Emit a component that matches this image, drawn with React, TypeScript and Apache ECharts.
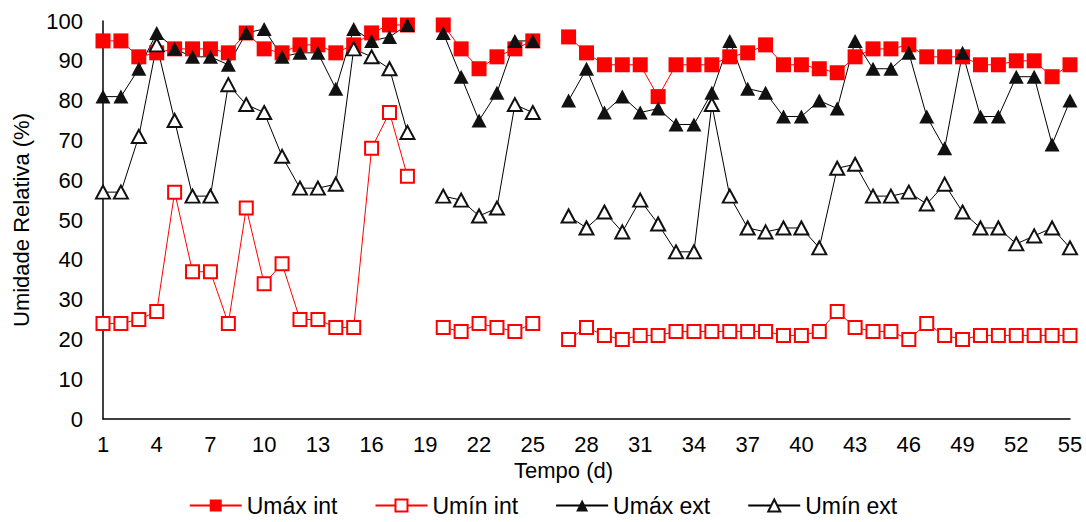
import React, { useEffect, useRef } from "react";
import * as echarts from "echarts";

const days = [
  "1","2","3","4","5","6","7","8","9","10","11","12","13","14","15","16","17","18","19","20",
  "21","22","23","24","25","26","27","28","29","30","31","32","33","34","35","36","37","38","39","40",
  "41","42","43","44","45","46","47","48","49","50","51","52","53","54","55",
];

const umaxInt = [
  95, 95, 91, 92, 93, 93, 93, 92, 97, 93, 92, 94, 94, 92, 94, 97, 99, 99, null, 99,
  93, 88, 91, 93, 95, null, 96, 92, 89, 89, 89, 81, 89, 89, 89, 91, 92, 94, 89, 89,
  88, 87, 91, 93, 93, 94, 91, 91, 91, 89, 89, 90, 90, 86, 89,
];

const uminInt = [
  24, 24, 25, 27, 57, 37, 37, 24, 53, 34, 39, 25, 25, 23, 23, 68, 77, 61, null, 23,
  22, 24, 23, 22, 24, null, 20, 23, 21, 20, 21, 21, 22, 22, 22, 22, 22, 22, 21, 21,
  22, 27, 23, 22, 22, 20, 24, 21, 20, 21, 21, 21, 21, 21, 21,
];

const umaxExt = [
  81, 81, 88, 97, 93, 91, 91, 89, 97, 98, 91, 92, 92, 83, 98, 95, 96, 99, null, 97,
  86, 75, 82, 95, 95, null, 80, 88, 77, 81, 77, 78, 74, 74, 82, 95, 83, 82, 76, 76,
  80, 78, 95, 88, 88, 92, 76, 68, 92, 76, 76, 86, 86, 69, 80,
];

const uminExt = [
  57, 57, 71, 94, 75, 56, 56, 84, 79, 77, 66, 58, 58, 59, 93, 91, 88, 72, null, 56,
  55, 51, 53, 79, 77, null, 51, 48, 52, 47, 55, 49, 42, 42, 79, 56, 48, 47, 48, 48,
  43, 63, 64, 56, 56, 57, 54, 59, 52, 48, 48, 44, 46, 48, 43,
];

const seriesNames = ["Umáx int", "Umín int", "Umáx ext", "Umín ext"];

const FONT = "Liberation Sans, Arial, sans-serif";

export default function App() {
  const ref = useRef<HTMLDivElement>(null);

  useEffect(() => {
    if (!ref.current) return;
    const chart = echarts.init(ref.current, undefined, { renderer: "svg" });
    const red = "#ff0000";
    const black = "#000000";
    chart.setOption({
      animation: false,
      backgroundColor: "#ffffff",
      textStyle: { fontFamily: FONT, color: "#000" },
      grid: { left: 103, right: 16, top: 21, bottom: 103, containLabel: false },
      legend: {
        data: seriesNames,
        bottom: 0,
        left: "center",
        itemWidth: 52,
        itemHeight: 15,
        itemGap: 37,
        textStyle: { fontFamily: FONT, fontSize: 23, color: "#000" },
      },
      xAxis: {
        type: "category",
        data: days,
        boundaryGap: false,
        name: "Tempo (d)",
        nameLocation: "middle",
        nameGap: 40,
        nameTextStyle: { fontFamily: FONT, fontSize: 22, color: "#000", padding: [0, 46, 0, 0] },
        axisLine: { lineStyle: { color: "#000", width: 1.5 } },
        axisTick: { show: false },
        axisLabel: { interval: 2, margin: 14, fontFamily: FONT, fontSize: 22, color: "#000" },
        splitLine: { show: false },
      },
      yAxis: {
        type: "value",
        min: 0,
        max: 100,
        interval: 10,
        name: "Umidade Relativa (%)",
        nameLocation: "middle",
        nameGap: 71,
        nameRotate: 90,
        nameTextStyle: { fontFamily: FONT, fontSize: 22, color: "#000" },
        axisLine: { show: true, lineStyle: { color: "#000", width: 1.5 } },
        axisTick: { show: false },
        axisLabel: { margin: 20, fontFamily: FONT, fontSize: 22, color: "#000" },
        splitLine: { show: false },
      },
      series: [
        {
          name: seriesNames[0],
          type: "line",
          data: umaxInt,
          connectNulls: false,
          showAllSymbol: true,
          symbol: "rect",
          symbolSize: 15,
          lineStyle: { color: red, width: 1 },
          itemStyle: { color: red, borderWidth: 0 },
        },
        {
          name: seriesNames[1],
          type: "line",
          data: uminInt,
          connectNulls: false,
          showAllSymbol: true,
          symbol: "rect",
          symbolSize: 13,
          lineStyle: { color: red, width: 1 },
          itemStyle: { color: "#ffffff", borderColor: red, borderWidth: 2 },
        },
        {
          name: seriesNames[2],
          type: "line",
          data: umaxExt,
          connectNulls: false,
          showAllSymbol: true,
          symbol: "triangle",
          symbolSize: [15, 14],
          lineStyle: { color: black, width: 1 },
          itemStyle: { color: "#111111", borderWidth: 0 },
        },
        {
          name: seriesNames[3],
          type: "line",
          data: uminExt,
          connectNulls: false,
          showAllSymbol: true,
          symbol: "triangle",
          symbolSize: [14, 13],
          lineStyle: { color: black, width: 1 },
          itemStyle: { color: "#ffffff", borderColor: "#111111", borderWidth: 2 },
        },
      ],
    });
    return () => chart.dispose();
  }, []);

  return (
    <div
      ref={ref}
      style={{ position: "fixed", left: 0, top: 0, width: 1086, height: 522, background: "#fff" }}
    />
  );
}
